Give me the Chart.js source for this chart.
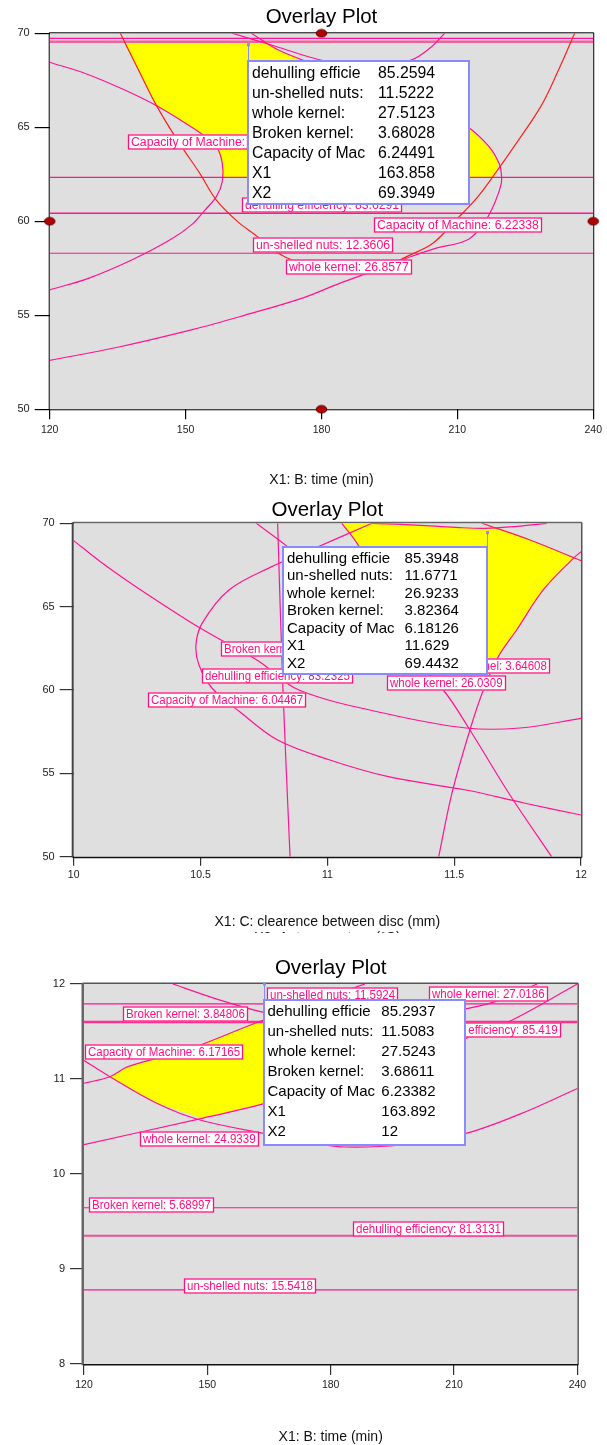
<!DOCTYPE html>
<html>
<head>
<meta charset="utf-8">
<title>Overlay Plots</title>
<script src="https://cdn.jsdelivr.net/npm/chart.js@4/dist/chart.umd.min.js"></script>
<style>
  html, body { margin: 0; padding: 0; background: #ffffff; }
  #page { position: relative; width: 607px; height: 1445px; overflow: hidden; background: #ffffff; }
  .panel { position: absolute; left: 0; width: 607px; }
  .panel canvas { display: block; }
</style>
</head>
<body>
<div id="page">
  <div class="panel" style="top:0px;height:490px"><canvas id="plot1" width="607" height="490"></canvas></div>
  <div class="panel" style="top:490px;height:443px"><canvas id="plot2" width="607" height="443"></canvas></div>
  <div class="panel" style="top:933px;height:512px"><canvas id="plot3" width="607" height="512"></canvas></div>
</div>
<script>
// ---------- Plot 1: X1 = B: time (min), X2 on the vertical axis ----------
const p1XTicks = [120, 150, 180, 210, 240];
const p1YTicks = [50, 55, 60, 65, 70];
const p1RedU = [[135.6,70],[139.5,68.1],[143.7,66.1],[148.5,64.2],[153.0,62.6],[156.8,61.13],[161.5,59.98],[165.4,59.27],[170.5,58.3],[174.5,57.85],[180,57.4],[186.3,57.2],[193,57.5],[199.5,58.2],[204.6,58.83],[209.7,60.07],[214.5,61.3],[218.9,62.73],[222.5,63.97],[228.4,66.1],[232.0,67.87],[235.9,70]];
const p1PinkA = [[120,68.46],[128,67.85],[136.2,67.02],[143.7,66.13],[151.2,65.03],[153.8,64.6],[156.8,63.97],[158.1,63.09],[158.1,62.11],[156.8,61.31],[154.3,60.6],[151.5,59.85],[146.5,59.0],[138.1,57.94],[128.7,56.98],[120,56.35]];
const p1PinkTopU = [[160.3,70],[170,69.3],[179.8,68.58],[190,68.2],[199.8,68.58],[203.9,69.2],[207.2,70]];
const p1PinkD = [[164.5,70],[170.5,69.11],[180,68.2],[190,67.3],[200,66.4],[207,65.7],[212.3,65.03],[217,63.97],[219.2,63.09],[219.7,62.55],[219.7,62.02],[218.5,61.13],[216.3,60.07],[212.5,59.05],[205,58.55],[199.5,58.1],[192,57.4],[184,56.7],[175.6,55.9],[163,55.0],[151.7,54.25],[135,53.3],[120,52.6]];
const p1Levels = [69.73, 69.55, 62.34, 60.43, 58.30];
const p1Sweet = [[136.5,69.55],[167.5,69.55],[170.5,69.11],[180,68.2],[190,67.3],[200,66.4],[207,65.7],[212.3,65.03],[217,63.97],[219.1,63.1],[218.9,62.73],[218.1,62.34],[158.1,62.34],[158.1,63.09],[156.8,63.97],[153.8,64.6],[151.2,65.03],[143.7,66.13],[139.5,68.1]];
const p1Design = [[180,70],[120,60],[240,60],[180,50]];
const p1Tags = [
  { text: 'Capacity of Machine:', x: 137.2, y: 64.23 },
  { text: 'dehulling efficiency: 83.6291', x: 162.4, y: 60.88 },
  { text: 'Capacity of Machine: 6.22338', x: 191.6, y: 59.78 },
  { text: 'un-shelled nuts: 12.3606', x: 164.9, y: 58.72 },
  { text: 'whole kernel: 26.8577', x: 172.2, y: 57.58 }
];
const p1Point = { x: 163.858, y: 69.3949, values: [85.2594, 11.5222, 27.5123, 3.68028, 6.24491] };

// ---------- Plot 2: X1 = C: clearence between disc (mm) ----------
const p2XTicks = [10, 10.5, 11, 11.5, 12];
const p2YTicks = [50, 55, 60, 65, 70];
const p2CurveA = [[10.0,68.96],[10.104,67.71],[10.235,66.30],[10.367,64.98],[10.485,63.84],[10.616,62.70],[10.734,61.68],[10.888,60.0],[11.239,58.56],[11.547,57.72],[11.76,57.72],[12.0,58.30]];
const p2CurveE = [[12.0,52.5],[11.775,53.22],[11.547,54.0],[11.24,54.8],[11.01,55.8],[10.804,57.0],[10.656,58.68],[10.545,60.12],[10.494,61.5],[10.482,62.7],[10.506,64.0],[10.612,66.0],[10.781,67.4],[10.934,68.4],[11.176,70.0]];
const p2TopSag = [[11.176,70.0],[11.29,69.93],[11.405,69.84],[11.52,69.74],[11.622,69.70],[11.72,69.78],[11.865,70.0]];
const p2Vertical = [[10.804,70],[10.825,60],[10.853,50]];
const p2CurveB = [[10.72,70],[10.843,68.6],[11.05,66.0],[11.286,62.7],[11.457,60.0],[11.562,57.6],[11.72,53.7],[11.884,50]];
const p2CurveC = [[12.0,68.3],[11.97,67.9],[11.851,66.0],[11.746,63.6],[11.674,62.0],[11.615,60.0],[11.562,57.6],[11.491,53.8],[11.439,50]];
const p2CurveD = [[11.057,70],[11.125,68.6],[11.2,66.0],[11.25,63.0]];
const p2RedLine = [[11.609,70],[11.799,69.0],[12.0,67.76]];
const p2Sweet = [[11.057,70],[11.176,70],[11.29,69.93],[11.405,69.84],[11.52,69.74],[11.622,69.70],[11.665,69.715],[11.799,69.0],[11.97,67.9],[11.851,66.0],[11.746,63.6],[11.674,62.0],[11.5,61.9],[11.25,62.2],[11.2,66.0],[11.125,68.6]];
const p2Tags = [
  { text: 'Broken kernel:', x: 10.581, y: 62.44 },
  { text: 'dehulling efficiency: 83.2325', x: 10.506, y: 60.86 },
  { text: 'Capacity of Machine: 6.04467', x: 10.291, y: 59.43 },
  { text: 'Broken kernel: 3.64608', x: 11.385, y: 61.42 },
  { text: 'whole kernel: 26.0309', x: 11.236, y: 60.40 }
];
const p2Point = { x: 11.629, y: 69.4432, values: [85.3948, 11.6771, 26.9233, 3.82364, 6.18126] };

// ---------- Plot 3: X1 = B: time (min), X2 from 8 to 12 ----------
const p3XTicks = [120, 150, 180, 210, 240];
const p3YTicks = [8, 9, 10, 11, 12];
const p3CurveU = [[120,11.195],[126.3,11.024],[137.7,10.744],[148.2,10.568],[165.7,10.411],[177.0,10.316],[183.5,10.284],[196.9,10.305],[212.9,10.428],[226.0,10.63],[240,10.90]];
const p3WholeLow = [[120,10.31],[148.7,10.586],[164.1,10.744],[179.8,10.937],[196.9,11.18],[212.9,11.428],[223.3,11.603],[240,12.0]];
const p3Rise = [[120,10.955],[126.3,11.024],[130.7,11.13],[144.9,11.305],[162.4,11.60],[179.8,11.87],[188.3,12.0]];
const p3TopLeft = [[141.6,12.0],[153.1,11.83],[164.7,11.69],[172.5,11.64],[182.3,11.66]];
const p3TopRight = [[230.2,12.0],[221.2,11.83],[213.1,11.74],[204.2,11.67]];
const p3Levels = [11.79, 11.60, 9.645, 9.35, 8.78];
const p3Sweet = [[126.3,11.024],[130.7,11.13],[144.9,11.305],[162.4,11.60],[204.2,11.60],[212.9,11.428],[196.9,11.18],[179.8,10.937],[164.1,10.744],[148.7,10.586],[137.7,10.744]];
const p3Tags = [
  { text: 'un-shelled nuts: 11.5924', x: 164.5, y: 11.889 },
  { text: 'whole kernel: 27.0186', x: 203.9, y: 11.895 },
  { text: 'Broken kernel: 3.84806', x: 129.5, y: 11.679 },
  { text: 'dehulling efficiency: 85.419', x: 200.7, y: 11.512 },
  { text: 'Capacity of Machine: 6.17165', x: 120.2, y: 11.282 },
  { text: 'whole kernel: 24.9339', x: 133.6, y: 10.37 },
  { text: 'Broken kernel: 5.68997', x: 121.1, y: 9.67 },
  { text: 'dehulling efficiency: 81.3131', x: 185.5, y: 9.424 },
  { text: 'un-shelled nuts: 15.5418', x: 144.2, y: 8.82 }
];
const p3Point = { x: 163.892, y: 12, values: [85.2937, 11.5083, 27.5243, 3.68611, 6.23382] };

const flagNames = ['dehulling efficie', 'un-shelled nuts:', 'whole kernel:', 'Broken kernel:', 'Capacity of Mac', 'X1', 'X2'];

// ---------- drawing helpers ----------
const FONT = '"Liberation Sans", Arial, Helvetica, sans-serif';
const PINK = '#ff1493';
const RED = '#ff1f1f';
const TAGPINK = '#ff1080';

function xy(arr) { return arr.map(p => ({ x: p[0], y: p[1] })); }

function curve(arr, color, width) {
  return { data: xy(arr), showLine: true, borderColor: color, borderWidth: width || 1.2,
           pointRadius: 0, tension: 0.35, fill: false, order: 5 };
}

function level(v, xMin, xMax, color, width) {
  return { data: [{ x: xMin, y: v }, { x: xMax, y: v }], showLine: true, borderColor: color,
           borderWidth: width, pointRadius: 0, tension: 0, fill: false, order: 6 };
}

function sweet(arr) {
  return { data: xy(arr), showLine: true, borderColor: 'rgba(0,0,0,0)', borderWidth: 0,
           backgroundColor: '#ffff00', pointRadius: 0, tension: 0, fill: 'shape', order: 10 };
}

function designDot() {
  const c = document.createElement('canvas');
  c.width = 13; c.height = 10;
  const g = c.getContext('2d');
  g.fillStyle = '#b30000';
  g.strokeStyle = '#5a0000';
  g.lineWidth = 1;
  g.beginPath();
  g.ellipse(6.5, 5, 5.3, 3.8, 0, 0, Math.PI * 2);
  g.fill();
  g.stroke();
  return c;
}

function drawTag(ctx, xs, ys, tag, st) {
  const x = Math.round(xs.getPixelForValue(tag.x));
  const y = Math.round(ys.getPixelForValue(tag.y));
  ctx.save();
  ctx.font = st.size + 'px ' + FONT;
  const tw = ctx.measureText(tag.text).width * st.sx;
  const w = Math.round(tw + 2 * st.pad), h = st.h;
  ctx.fillStyle = '#ffffff';
  ctx.fillRect(x, y - h / 2, w, h);
  ctx.strokeStyle = TAGPINK;
  ctx.lineWidth = 1.3;
  ctx.strokeRect(x + 0.5, y - h / 2 + 0.5, w - 1, h - 1);
  ctx.translate(x + st.pad, y + 0.5);
  ctx.scale(st.sx, 1);
  ctx.fillStyle = TAGPINK;
  ctx.textBaseline = 'middle';
  ctx.fillText(tag.text, 0, 0);
  ctx.restore();
}

function drawFlag(ctx, xs, ys, pt, st) {
  const ax = xs.getPixelForValue(pt.x), ay = ys.getPixelForValue(pt.y);
  const bx = Math.round(st.side === 'left' ? ax - st.w : ax);
  const by = Math.round(ay + st.drop);
  ctx.save();
  ctx.strokeStyle = '#8a8aff';
  ctx.lineWidth = 1;
  ctx.beginPath();
  ctx.moveTo(Math.round(ax) + 0.5, ay);
  ctx.lineTo(Math.round(ax) + 0.5, by);
  ctx.stroke();
  ctx.fillStyle = '#8a8aff';
  ctx.fillRect(Math.round(ax) - 1, ay - 1.5, 3, 3);
  ctx.fillStyle = '#ffffff';
  ctx.fillRect(bx, by, st.w, st.h);
  ctx.lineWidth = 2;
  ctx.strokeRect(bx, by, st.w, st.h);
  ctx.fillStyle = '#000000';
  ctx.font = st.size + 'px ' + FONT;
  ctx.textBaseline = 'middle';
  const vals = pt.values.concat([pt.x, pt.y]).map(v => String(v));
  flagNames.forEach((name, i) => {
    const yy = by + st.row0 + i * st.rowH;
    ctx.fillText(name, bx + st.padL, yy);
    ctx.fillText(vals[i], bx + st.valX, yy);
  });
  ctx.restore();
}

function makeChart(id, spec) {
  const canvas = document.getElementById(id);
  const W = canvas.width, H = canvas.height;
  const A = spec.area;
  const datasets = [];
  datasets.push(sweet(spec.sweet));
  spec.levels.forEach(l => datasets.push(level(l.v, spec.xMin, spec.xMax, l.color, l.width)));
  spec.curves.forEach(c => datasets.push(curve(c.data, c.color, c.width)));
  if (spec.design) {
    datasets.push({ data: xy(spec.design), showLine: false, pointStyle: designDot(),
                    pointRadius: 6, clip: false, order: 0 });
  }
  const decor = {
    id: 'decor' + id,
    beforeDraw(chart) {
      const a = chart.chartArea, ctx = chart.ctx;
      ctx.save();
      ctx.fillStyle = '#ffffff';
      ctx.fillRect(0, 0, W, H);
      ctx.fillStyle = '#dfdfdf';
      ctx.fillRect(a.left, a.top, a.right - a.left, a.bottom - a.top);
      ctx.restore();
    },
    beforeDatasetsDraw(chart) {
      const a = chart.chartArea, ctx = chart.ctx, b = spec.border;
      ctx.save();
      ctx.lineCap = 'square';
      const seg = (x1, y1, x2, y2, c, w) => {
        ctx.strokeStyle = c; ctx.lineWidth = w;
        ctx.beginPath(); ctx.moveTo(x1, y1); ctx.lineTo(x2, y2); ctx.stroke();
      };
      seg(a.left, a.top - b.top / 2, a.right, a.top - b.top / 2, b.topColor, b.top);
      seg(a.right + b.right / 2, a.top, a.right + b.right / 2, a.bottom, b.rightColor, b.right);
      seg(a.left - b.left / 2, a.top, a.left - b.left / 2, a.bottom, b.leftColor, b.left);
      seg(a.left, a.bottom + b.bottom / 2, a.right, a.bottom + b.bottom / 2, b.bottomColor, b.bottom);
      ctx.restore();
    },
    afterDatasetsDraw(chart) {
      const ctx = chart.ctx, xs = chart.scales.x, ys = chart.scales.y;
      spec.tags.forEach(t => drawTag(ctx, xs, ys, t, spec.tagStyle));
      drawFlag(ctx, xs, ys, spec.point, spec.flagStyle);
    },
    afterDraw(chart) {
      const a = chart.chartArea, ctx = chart.ctx;
      ctx.save();
      ctx.fillStyle = '#000000';
      ctx.textAlign = 'center';
      ctx.textBaseline = 'middle';
      ctx.font = spec.titleSize + 'px ' + FONT;
      ctx.fillText('Overlay Plot', (a.left + a.right) / 2, a.top - spec.titleGap);
      ctx.font = '14px ' + FONT;
      ctx.fillStyle = '#111111';
      ctx.fillText(spec.xTitle, (a.left + a.right) / 2, a.bottom + spec.xTitleGap);
      if (spec.xTitle2) {
        ctx.fillText(spec.xTitle2, (a.left + a.right) / 2, a.bottom + spec.xTitleGap + 16);
      }
      ctx.restore();
    }
  };
  return new Chart(canvas, {
    type: 'scatter',
    data: { datasets },
    options: {
      responsive: false,
      animation: false,
      devicePixelRatio: 1,
      events: [],
      layout: { padding: { left: 0, top: A.top, right: W - A.right, bottom: 0 } },
      plugins: { legend: { display: false }, tooltip: { enabled: false }, title: { display: false } },
      scales: {
        x: {
          type: 'linear', min: spec.xMin, max: spec.xMax,
          afterFit: s => { s.height = H - A.bottom; },
          afterBuildTicks: s => { s.ticks = spec.xTicks.map(v => ({ value: v })); },
          border: { display: false },
          grid: { drawOnChartArea: false, drawTicks: true, tickLength: spec.xTickLen, color: spec.tickColor, lineWidth: 1.2 },
          ticks: { autoSkip: false, maxRotation: 0, padding: spec.xTickPad, color: '#222222',
                   font: { family: FONT, size: 10.5 }, callback: v => String(v) }
        },
        y: {
          type: 'linear', min: spec.yMin, max: spec.yMax,
          afterFit: s => { s.width = A.left; },
          afterBuildTicks: s => { s.ticks = spec.yTicks.map(v => ({ value: v })); },
          border: { display: false },
          grid: { drawOnChartArea: false, drawTicks: true, tickLength: spec.yTickLen, color: spec.tickColor, lineWidth: 1.2 },
          ticks: { autoSkip: false, padding: 5, color: '#222222',
                   font: { family: FONT, size: 11 }, callback: v => String(v) }
        }
      }
    },
    plugins: [decor]
  });
}

const tagStyleWide = { size: 13.3, sx: 0.92, pad: 3, h: 15 };
const tagStyle = { size: 12.5, sx: 0.92, pad: 3, h: 15 };

makeChart('plot1', {
  area: { left: 49.7, top: 33.3, right: 596.3, bottom: 409.3 },
  xMin: 120, xMax: 240, yMin: 50, yMax: 70, xTicks: p1XTicks, yTicks: p1YTicks,
  xTickLen: 10, yTickLen: 15, xTickPad: 5, tickColor: '#000000',
  border: { top: 1, right: 1, left: 1, bottom: 1, topColor: '#000', rightColor: '#000', leftColor: '#000', bottomColor: '#000' },
  sweet: p1Sweet,
  levels: [
    { v: p1Levels[0], color: PINK, width: 1.2 },
    { v: p1Levels[1], color: '#f2609e', width: 2.6 },
    { v: p1Levels[2], color: PINK, width: 1.2 },
    { v: p1Levels[3], color: PINK, width: 1.4 },
    { v: p1Levels[4], color: PINK, width: 1.2 }
  ],
  curves: [
    { data: p1RedU, color: RED }, { data: p1PinkA, color: PINK }, { data: p1PinkTopU, color: PINK },
    { data: p1PinkD, color: PINK }
  ],
  design: p1Design,
  tags: p1Tags, tagStyle: tagStyleWide,
  point: p1Point,
  flagStyle: { side: 'right', w: 221, h: 143, drop: 16, padL: 4, valX: 130, row0: 12.6, rowH: 20, size: 15.8 },
  titleSize: 20.5, titleGap: 16, xTitle: 'X1: B: time (min)', xTitleGap: 71
});

makeChart('plot2', {
  area: { left: 73.7, top: 33.3, right: 581, bottom: 366.7 },
  xMin: 10, xMax: 12, yMin: 50, yMax: 70, xTicks: p2XTicks, yTicks: p2YTicks,
  xTickLen: 9, yTickLen: 14, xTickPad: 3, tickColor: '#333333',
  border: { top: 1.5, right: 1.5, left: 2, bottom: 1.5, topColor: '#666', rightColor: '#555', leftColor: '#444', bottomColor: '#111' },
  sweet: p2Sweet,
  levels: [],
  curves: [
    { data: p2CurveA, color: PINK }, { data: p2CurveE, color: PINK }, { data: p2TopSag, color: PINK },
    { data: p2Vertical, color: PINK }, { data: p2CurveB, color: PINK }, { data: p2CurveC, color: PINK },
    { data: p2CurveD, color: PINK }, { data: p2RedLine, color: '#ff1f4a' }
  ],
  design: null,
  tags: p2Tags, tagStyle,
  point: p2Point,
  flagStyle: { side: 'left', w: 204, h: 127, drop: 14, padL: 4, valX: 121.6, row0: 11.6, rowH: 17.5, size: 15 },
  titleSize: 20.5, titleGap: 13, xTitle: 'X1: C: clearence between disc (mm)', xTitleGap: 65,
  xTitle2: 'X2: A: temperature (°C)'
});

makeChart('plot3', {
  area: { left: 84, top: 51, right: 577.4, bottom: 431 },
  xMin: 120, xMax: 240, yMin: 8, yMax: 12, xTicks: p3XTicks, yTicks: p3YTicks,
  xTickLen: 11, yTickLen: 14, xTickPad: 4, tickColor: '#333333',
  border: { top: 1.5, right: 1.5, left: 2.5, bottom: 1.5, topColor: '#555', rightColor: '#555', leftColor: '#666', bottomColor: '#111' },
  sweet: p3Sweet,
  levels: [
    { v: p3Levels[0], color: PINK, width: 1.2 },
    { v: p3Levels[1], color: '#ff2e90', width: 2.6 },
    { v: p3Levels[2], color: PINK, width: 1.2 },
    { v: p3Levels[3], color: '#f0509a', width: 2.2 },
    { v: p3Levels[4], color: PINK, width: 1.2 }
  ],
  curves: [
    { data: p3CurveU, color: PINK }, { data: p3WholeLow, color: PINK }, { data: p3Rise, color: PINK },
    { data: p3TopLeft, color: PINK }, { data: p3TopRight, color: PINK }
  ],
  design: null,
  tags: p3Tags, tagStyle,
  point: p3Point,
  flagStyle: { side: 'right', w: 201, h: 145, drop: 16, padL: 3.5, valX: 117.3, row0: 11.7, rowH: 20, size: 15 },
  titleSize: 20.5, titleGap: 15.7, xTitle: 'X1: B: time (min)', xTitleGap: 72.7
});
</script>
</body>
</html>
